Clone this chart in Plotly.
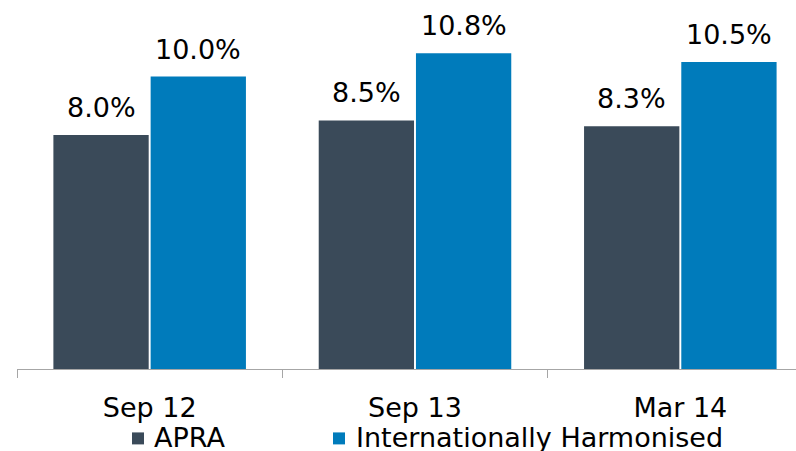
import plotly.graph_objects as go

categories = ["Sep 12", "Sep 13", "Mar 14"]
apra = [8.0, 8.5, 8.3]
harmonised = [10.0, 10.8, 10.5]
series_names = ["APRA", "Internationally Harmonised"]
colors = ["#3A4A59", "#007BBB"]

FONT = "DejaVu Sans"
FS = 27

W, H = 796, 451
ML, MR, MT, MB = 17, 0, 0, 81.5
BARGAP = 0.267
PLOT_W = W - ML - MR
PLOT_H = H - MT - MB


def px_x(px):
    return (px - ML) / PLOT_W


def px_y(py):
    return (H - MB - py) / PLOT_H


fig = go.Figure()
series = [apra, harmonised]
for name, vals, col in zip(series_names, series, colors):
    fig.add_trace(go.Bar(
        x=list(range(len(categories))), y=vals, name=name,
        marker=dict(color=col, line=dict(width=0)),
        showlegend=False,
    ))

# value labels above each bar
offset = (1 - BARGAP) / 4
annotations = []
for s, vals in enumerate(series):
    sign = -1 if s == 0 else 1
    for i, v in enumerate(vals):
        annotations.append(dict(
            x=i + sign * offset, y=v, xref="x", yref="y",
            text=f"{v:.1f}%", showarrow=False, yanchor="bottom",
            yshift=10, font=dict(family=FONT, size=FS, color="#000000"),
        ))

# legend drawn below the axis
shapes = []
legend_items = [(132, 152), (333, 354)]
for (sq_x, txt_x), name, col in zip(legend_items, series_names, colors):
    shapes.append(dict(
        type="rect", xref="paper", yref="paper",
        x0=px_x(sq_x), x1=px_x(sq_x + 12), y0=px_y(445), y1=px_y(433),
        fillcolor=col, line=dict(width=0),
    ))
    annotations.append(dict(
        x=px_x(txt_x), y=px_y(438), xref="paper", yref="paper",
        text=name, showarrow=False, xanchor="left", yanchor="middle",
        font=dict(family=FONT, size=FS, color="#000000"),
    ))

fig.update_layout(
    width=W, height=H,
    margin=dict(l=ML, r=MR, t=MT, b=MB, autoexpand=False),
    paper_bgcolor="white", plot_bgcolor="white",
    barmode="group", bargap=BARGAP, bargroupgap=0.02,
    font=dict(family=FONT, size=FS, color="#000000"),
    showlegend=False,
    annotations=annotations,
    shapes=shapes,
    xaxis=dict(
        range=[-0.5, 2.436], showline=True, linecolor="#A6A6A6", linewidth=1,
        tickmode="array", tickvals=list(range(len(categories))), ticktext=categories,
        ticks="", showgrid=False, zeroline=False,
        tickfont=dict(family=FONT, size=FS), ticklabelstandoff=15,
        automargin=False,
        minor=dict(ticks="outside", tickvals=[-0.5, 0.5, 1.5, 2.5], ticklen=8,
                   tickcolor="#A6A6A6", showgrid=False),
    ),
    yaxis=dict(range=[0, 12.62], visible=False, showgrid=False),
)

fig.write_html("out.html")
